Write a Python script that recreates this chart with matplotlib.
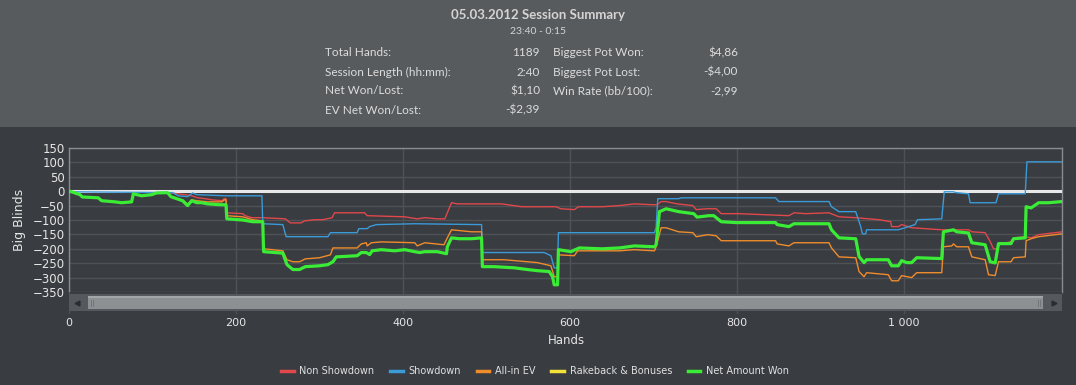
import matplotlib
matplotlib.use("Agg")
import matplotlib.pyplot as plt
from matplotlib.lines import Line2D
from matplotlib.patches import Rectangle

# series: (hand, big blinds)
net_hands = [0, 1, 13, 16, 35, 39, 55, 63, 75, 77, 87, 99, 105, 118, 122, 129, 136, 142, 147, 153,
             159, 166, 181, 188, 189, 208, 220, 232, 233, 256, 261, 268, 276, 283, 300, 310, 316, 320,
             345, 350, 356, 360, 363, 374, 390, 402, 414, 420, 426, 441, 452, 453, 458, 467, 482, 494,
             495, 509, 533, 549, 561, 575, 579, 581, 585, 586, 601, 611, 638, 659, 677, 701, 703, 707,
             715, 730, 748, 752, 766, 772, 781, 799, 846, 848, 862, 868, 910, 913, 922, 942, 946, 952,
             955, 981, 985, 993, 997, 1003, 1009, 1015, 1045, 1047, 1059, 1063, 1077, 1081, 1097, 1103,
             1109, 1113, 1128, 1131, 1145, 1146, 1152, 1161, 1173, 1189]
net_bb = [0, 0, -12, -20, -23, -33, -37, -40, -37, -9, -16, -12, -6, -5, -19, -26, -33, -50, -33, -40,
          -40, -44, -47, -47, -96, -100, -106, -106, -210, -215, -255, -272, -272, -262, -259, -255, -245, -228,
          -224, -213, -213, -220, -207, -203, -207, -203, -210, -213, -210, -210, -217, -193, -162, -165, -165, -162,
          -262, -262, -266, -272, -276, -279, -297, -325, -325, -203, -210, -197, -200, -197, -190, -193, -186, -71,
          -61, -71, -78, -90, -85, -85, -106, -109, -109, -116, -123, -113, -113, -134, -162, -165, -227, -248,
          -238, -238, -259, -259, -241, -248, -248, -231, -234, -141, -134, -141, -145, -179, -186, -245,
          -249, -182, -182, -165, -162, -54, -58, -40, -40, -36]

sd_hands = [0, 1, 124, 131, 142, 148, 153, 188, 231, 232, 256, 260, 310, 313, 345, 347, 357, 360, 368,
            414, 494, 495, 569, 577, 581, 585, 586, 701, 703, 705, 730, 733, 846, 850, 910, 913, 922, 942,
            948, 950, 954, 955, 993, 1001, 1013, 1016, 1045, 1048, 1059, 1062, 1077, 1079, 1110, 1113,
            1145, 1147, 1189]
sd_bb = [0, -2, -5, -16, -19, -6, -12, -16, -16, -113, -116, -158, -158, -144, -144, -130, -130, -123, -116,
         -113, -116, -213, -213, -224, -266, -266, -144, -144, -127, -26, -26, -23, -23, -36, -36, -54, -71, -71,
         -123, -148, -148, -134, -134, -127, -116, -99, -96, -2, -2, -5, -9, -40, -40, -9,
         -9, 102, 102]

nsd_hands = [0, 1, 13, 16, 35, 39, 55, 63, 75, 77, 87, 99, 105, 118, 130, 139, 147, 154, 163, 171, 183,
             186, 188, 189, 208, 211, 219, 232, 259, 265, 278, 282, 294, 304, 315, 318, 354, 357, 402, 417,
             426, 441, 450, 453, 458, 465, 518, 542, 583, 589, 605, 610, 638, 659, 677, 698, 704, 709, 715,
             728, 747, 751, 763, 775, 781, 802, 862, 868, 882, 910, 922, 942, 970, 984, 985, 993, 997, 1009,
             1045, 1077, 1081, 1097, 1103, 1107, 1112, 1113, 1128, 1131, 1145, 1152, 1161, 1189]
nsd_bb = [0, 0, -12, -20, -23, -33, -37, -40, -37, -9, -16, -12, -6, -5, -9, -12, -16, -23, -26, -30, -33,
          -26, -26, -75, -78, -85, -92, -92, -96, -110, -110, -103, -99, -99, -92, -75, -75, -85, -89, -96,
          -92, -96, -96, -75, -40, -44, -44, -54, -54, -61, -64, -54, -54, -50, -44, -47, -47, -36, -36,
          -44, -50, -64, -61, -61, -78, -78, -85, -75, -78, -75, -89, -92, -99, -106, -123, -123, -116, -127,
          -134, -134, -141, -144, -175, -200, -200, -186, -175, -162, -158, -162, -151, -141]

ev_hands = [0, 1, 13, 16, 35, 39, 55, 63, 75, 77, 87, 99, 105, 118, 122, 129, 136, 142, 147, 153, 166,
            183, 186, 188, 189, 208, 220, 232, 233, 256, 261, 268, 276, 283, 300, 313, 316, 345, 350, 356,
            357, 362, 374, 414, 417, 426, 449, 453, 458, 482, 494, 495, 521, 561, 577, 581, 585, 586, 605,
            609, 659, 677, 701, 703, 709, 715, 730, 747, 751, 765, 775, 781, 846, 848, 862, 868, 910, 913,
            922, 942, 946, 952, 955, 981, 985, 993, 997, 1009, 1015, 1045, 1047, 1057, 1059, 1063, 1077,
            1081, 1097, 1101, 1109, 1113, 1128, 1131, 1145, 1146, 1152, 1161, 1189]
ev_bb = [0, 0, -12, -20, -23, -33, -37, -40, -37, -9, -16, -12, -6, -5, -19, -26, -30, -45, -30, -33, -37,
         -37, -30, -30, -85, -89, -99, -103, -200, -207, -238, -245, -245, -235, -231, -221, -197, -197, -183, -179,
         -190, -179, -176, -179, -190, -179, -186, -162, -134, -141, -141, -238, -238, -248, -259, -297, -297, -221, -224,
         -207, -207, -203, -207, -193, -127, -127, -141, -144, -158, -151, -155, -172, -172, -183, -190, -179, -179, -197,
         -228, -231, -279, -297, -283, -290, -311, -311, -293, -300, -283, -283, -193, -190, -183, -193, -193,
         -228, -238, -290, -293, -245, -245, -231, -228, -172, -165, -158, -148]

rb_hands = [0, 1189]
rb_bb = [0, 0]

y_ticks = [150, 100, 50, 0, -50, -100, -150, -200, -250, -300, -350]
x_ticks = [0, 200, 400, 600, 800, 1000]
x_ticklabels = ["0", "200", "400", "600", "800", "1 000"]

summary_left = [("Total Hands:", "1189"), ("Session Length (hh:mm):", "2:40"),
                ("Net Won/Lost:", "$1,10"), ("EV Net Won/Lost:", "-$2,39")]
summary_right = [("Biggest Pot Won:", "$4,86"), ("Biggest Pot Lost:", "-$4,00"),
                 ("Win Rate (bb/100):", "-2,99")]

W, H = 1076, 385
BG = "#393c40"
PANEL = "#585b5e"
GRID = "#4e5257"
TXT = "#dcdcdc"


def fx(px):
    return px / W


def fy(py):
    return 1 - py / H


fig = plt.figure(figsize=(W / 100, H / 100), dpi=100, facecolor=BG)

# summary panel on top
fig.patches.append(Rectangle((0, fy(127)), 1, 1 - fy(127), transform=fig.transFigure,
                             facecolor=PANEL, edgecolor="none", zorder=0))
fig.text(fx(538), fy(15), "05.03.2012 Session Summary", ha="center", va="center",
         fontsize=9.5, fontweight="bold", color="#d4d4d4", family="Lato")
fig.text(fx(538), fy(31), "23:40 - 0:15", ha="center", va="center", fontsize=7.5,
         color="#d4d4d4", family="Lato")
row_y = [53, 72, 91, 110]
for (lab, val), ry in zip(summary_left, row_y):
    fig.text(fx(325), fy(ry), lab, ha="left", va="center", fontsize=8.5, color=TXT, family="Lato")
    fig.text(fx(540), fy(ry), val, ha="right", va="center", fontsize=8.5, color=TXT, family="Lato")
for (lab, val), ry in zip(summary_right, row_y):
    fig.text(fx(553), fy(ry), lab, ha="left", va="center", fontsize=8.5, color=TXT, family="Lato")
    fig.text(fx(738), fy(ry), val, ha="right", va="center", fontsize=8.5, color=TXT, family="Lato")

# main plot
x0, x1 = 69, 1062
ax = fig.add_axes([fx(x0), fy(292), fx(x1) - fx(x0), fy(148) - fy(292)])
ax.set_facecolor(BG)
ax.set_xlim(0, 1189)
ax.set_ylim(-350, 150)
ax.set_yticks(y_ticks)
ax.set_xticks(x_ticks)
ax.tick_params(axis="y", length=0, pad=3, labelsize=8.5, labelcolor="#e6e6e6")
ax.tick_params(axis="x", length=0, labelbottom=False)
ax.grid(True, color=GRID, linewidth=1.0)
ax.set_axisbelow(True)
for s in ["top", "left", "right"]:
    ax.spines[s].set_color("#8a8d90")
    ax.spines[s].set_linewidth(1.0)
ax.spines["bottom"].set_visible(False)

l_rb, = ax.plot(rb_hands, rb_bb, color="#f2e33a", lw=1.0, zorder=2)
ax.axhline(0, color="#e8e8e8", lw=2.2, zorder=3)
l_nsd, = ax.plot(nsd_hands, nsd_bb, color="#e0484c", lw=1.0, zorder=4)
l_sd, = ax.plot(sd_hands, sd_bb, color="#3b9ad8", lw=1.0, zorder=4)
l_ev, = ax.plot(ev_hands, ev_bb, color="#f08c2c", lw=1.0, zorder=4)
l_net, = ax.plot(net_hands, net_bb, color="#3aec36", lw=2.3, zorder=5)

# strip under the plot: scrollbar + grid continuation + x labels
ax2 = fig.add_axes([fx(x0), fy(314), fx(x1) - fx(x0), fy(292) - fy(314)], sharex=ax)
ax2.set_facecolor(BG)
ax2.set_ylim(0, 1)
ax2.set_yticks([])
ax2.set_xticks(x_ticks)
ax2.set_xticklabels(x_ticklabels)
ax2.tick_params(axis="x", length=0, pad=3, labelsize=8, labelcolor="#e6e6e6")
ax2.grid(True, axis="x", color=GRID, linewidth=1.0)
ax2.set_axisbelow(True)
for s in ax2.spines.values():
    s.set_visible(False)
sb_top, sb_h = 0.08, 0.8
ax2.add_patch(Rectangle((0, 1 - sb_top - sb_h), 1, sb_h, transform=ax2.transAxes,
                        facecolor="#55585c", edgecolor="none", zorder=5))
ax2.add_patch(Rectangle((0.019, 1 - sb_top - sb_h + 0.12), 0.962, sb_h - 0.24,
                        transform=ax2.transAxes, facecolor="#8d9092", edgecolor="none", zorder=6))
ax2.add_patch(Rectangle((0.019, 1 - sb_top - 0.2), 0.962, 0.1,
                        transform=ax2.transAxes, facecolor="#a3a6a8", edgecolor="none", zorder=7))
ax2.plot([0.008], [0.5], marker="<", ms=3.5, color="#2a2c2e", transform=ax2.transAxes, zorder=8)
ax2.plot([0.992], [0.5], marker=">", ms=3.5, color="#2a2c2e", transform=ax2.transAxes, zorder=8)
for gx in [0.022, 0.024, 0.976, 0.978]:
    ax2.plot([gx, gx], [0.35, 0.65], color="#6e7173", lw=0.6, transform=ax2.transAxes, zorder=8)

fig.text(fx(20), fy(220), "Big Blinds", rotation=90, ha="center", va="center",
         fontsize=9, color="#e6e6e6")
fig.text(fx(566), fy(341), "Hands", ha="center", va="center", fontsize=8.5, color="#e6e6e6")

handles = [Line2D([], [], color=c, lw=2.5) for c in
           ["#e0484c", "#3b9ad8", "#f08c2c", "#f2e33a", "#3aec36"]]
labels = ["Non Showdown", "Showdown", "All-in EV", "Rakeback & Bonuses", "Net Amount Won"]
fig.legend(handles, labels, loc="center", bbox_to_anchor=(fx(535), fy(371)), ncol=5,
           frameon=False, fontsize=7, labelcolor="#e0e0e0", handlelength=1.3,
           handletextpad=0.6, columnspacing=1.6)

fig.savefig("out.png", dpi=100, facecolor=BG)
